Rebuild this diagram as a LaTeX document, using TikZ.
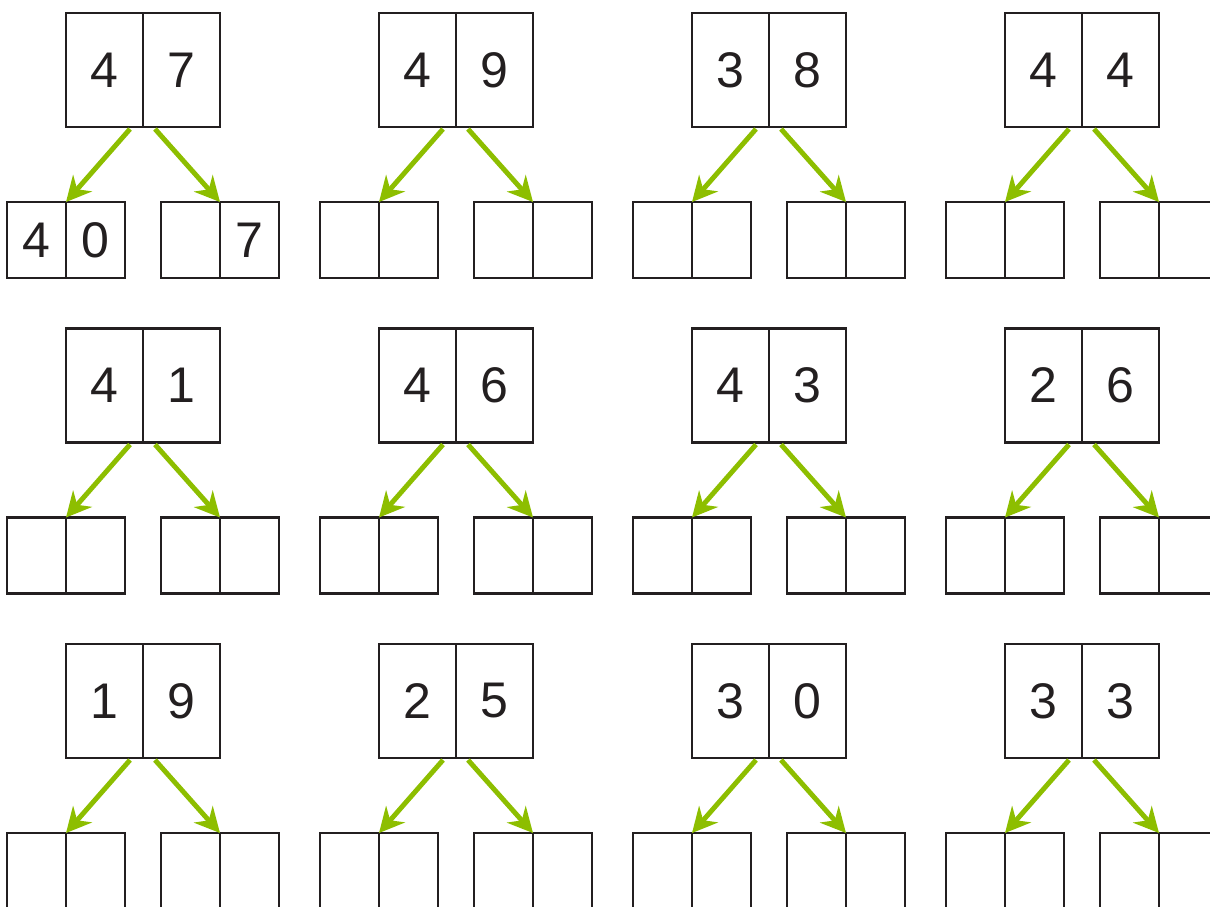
\documentclass[tikz,border=0pt]{standalone}
\usepackage{fontspec}
\setmainfont{Liberation Sans}
\usetikzlibrary{arrows.meta}
\definecolor{boxline}{RGB}{35,31,32}
\definecolor{leafgreen}{RGB}{141,190,0}
\tikzset{
  topcell/.style={draw=boxline, line width=1.6pt, minimum width=1.54cm,
    minimum height=2.28cm, inner sep=0pt, outer sep=0pt, text=boxline,
    font=\fontsize{28.5}{30}\selectfont},
  leafcell/.style={topcell, minimum width=1.18cm, minimum height=1.52cm},
  split/.style={leafgreen, line width=2.8pt,
    -{Stealth[length=0.5cm, width=0.5cm]}}
}

\begin{document}
\begin{tikzpicture}[x=0.02cm, y=-0.02cm]
% page frame (1210 x 906)
\clip (0,0) rectangle (1210,906);
% column / row / top pair / leaves (left pair, right pair)
\foreach \c/\r/\a/\b/\p/\q/\s/\t in {
    0/0/4/7/4/0/{}/7, 1/0/4/9/{}/{}/{}/{}, 2/0/3/8/{}/{}/{}/{}, 3/0/4/4/{}/{}/{}/{},
    0/1/4/1/{}/{}/{}/{}, 1/1/4/6/{}/{}/{}/{}, 2/1/4/3/{}/{}/{}/{}, 3/1/2/6/{}/{}/{}/{},
    0/2/1/9/{}/{}/{}/{}, 1/2/2/5/{}/{}/{}/{}, 2/2/3/0/{}/{}/{}/{}, 3/2/3/3/{}/{}/{}/{}}
{
  \pgfmathsetmacro\cx{66+313*\c}
  \pgfmathsetmacro\cy{13+315.5*\r}
  % number to split
  \node[topcell] (ta-\c-\r) at (\cx+38.5,\cy+57) {\a};
  \node[topcell] (tb-\c-\r) at (\cx+115.5,\cy+57) {\b};
  % left leaf pair
  \node[leafcell] (la-\c-\r) at (\cx-29.5,\cy+227) {\p};
  \node[leafcell] (lb-\c-\r) at (\cx+29.5,\cy+227) {\q};
  % right leaf pair
  \node[leafcell] (ra-\c-\r) at (\cx+124.5,\cy+227) {\s};
  \node[leafcell] (rb-\c-\r) at (\cx+183.5,\cy+227) {\t};
  % arrows down to the pairs
  \draw[split] ([shift={(-0.26cm,-0.04cm)}]ta-\c-\r.south east) -- (lb-\c-\r.north west);
  \draw[split] ([shift={(0.24cm,-0.04cm)}]tb-\c-\r.south west) -- (rb-\c-\r.north west);
}
\end{tikzpicture}
\end{document}
